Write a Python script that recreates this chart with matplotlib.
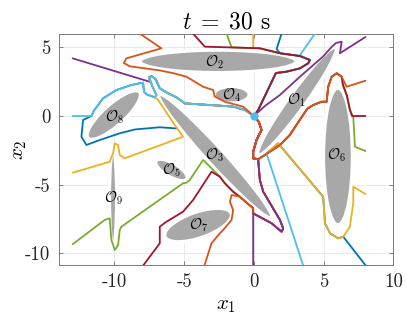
import matplotlib.pyplot as plt
from matplotlib.patches import Ellipse

plt.rcParams["font.family"] = "cmr10"
plt.rcParams["mathtext.fontset"] = "cm"
plt.rcParams["axes.unicode_minus"] = False
plt.rcParams["axes.formatter.use_mathtext"] = False

# MATLAB default colour order
blue, orange, yellow = "#0072BD", "#D95319", "#EDB120"
purple, green, lblue, dred = "#7E2F8E", "#77AC30", "#4DBEEE", "#A2142F"

# obstacles O1..O9: centre, semi axes, angle (deg)
obs_x = [3.09, -2.56, -2.77, -1.60, -5.91, 6.03, -4.00, -10.05, -10.10]
obs_y = [1.09, 3.98, -2.92, 1.55, -3.93, -2.95, -7.94, 0.07, -5.97]
obs_a = [4.82, 5.62, 6.07, 1.27, 1.30, 4.99, 2.53, 2.51, 3.60]
obs_b = [0.62, 0.83, 0.64, 0.62, 0.50, 1.05, 0.95, 0.78, 0.27]
obs_ang = [54.6, 0, -48.1, 0, -30.9, 90, 19.5, 42.4, 90]

# label positions
lab_x = [3.07, -2.80, -2.80, -1.60, -5.91, 5.94, -4.00, -9.98, -10.10]
lab_y = [1.17, 3.95, -2.84, 1.53, -3.93, -2.84, -7.94, -0.09, -5.99]

# shared tails of the trajectories
lb_tail = [(-7.27, 2.13), (-7.52, 2.82), (-7.34, 2.91), (-7.04, 2.67), (-6.75, 2.02),
           (-6.15, 1.65), (-5.55, 1.36), (-4.95, 0.92), (-3.16, 0.80), (-1.51, 0.69),
           (-0.65, 0.44), (0, 0)]
dred_tail = [(0.43, 4.93), (1.87, 4.57), (3.30, 4.37), (4.02, 4.08), (3.90, 3.84),
             (3.30, 3.47), (2.35, 3.23), (1.58, 3.13), (0.31, 0.44), (0, 0)]
arm_tail = [(0.79, -2.84), (0.31, -3.15), (-0.05, -3.08), (-0.05, -2.60), (0.19, -1.75),
            (0.55, -1.02), (0.36, -0.44), (0, 0)]
hump_tail = [(5.94, 3.11), (5.58, 2.86), (5.33, 2.13), (5.22, 1.04), (4.86, 1.04),
             (4.26, 0.80), (3.85, 0.55), (3.25, -0.35), (2.58, -1.38), (1.87, -2.11)] + arm_tail
tip_tail = [(-0.05, -7.09), (1.27, -7.81), (1.99, -8.43), (2.10, -8.18), (1.87, -7.57),
            (0.67, -5.51), (0.43, -4.66), (0.31, -3.20)] + arm_tail[1:]
o3low_tail = [(-2.44, -4.42), (-2.08, -4.90), (-1.49, -5.51), (-1.01, -5.88),
              (-0.05, -6.72)] + tip_tail
o6low_tail = [(6.05, -8.91), (5.46, -8.54), (5.10, -7.81), (4.97, -5.88), (1.74, -1.99)] + arm_tail

# trajectories
lb_a = [(-13.0, 0.0), (-11.65, 0.0), (-11.49, 0.36), (-10.82, 1.29), (-9.86, 1.89),
        (-8.78, 2.26), (-7.95, 2.43), (-7.88, 1.77), (-7.70, 1.58), (-7.11, 1.36),
        (-6.99, 1.53)] + lb_tail
purple_a = [(-13.0, 4.20), (-7.42, 2.48)] + lb_tail[1:]
yellow_b = [(-13.0, -4.13), (-10.34, -3.33), (-10.10, -2.72), (-9.98, -1.99), (-9.74, -2.11),
            (-9.62, -2.84), (-9.26, -3.08), (-5.08, -1.51), (-5.67, -0.66), (-6.87, 1.17),
            (-7.11, 1.36), (-6.99, 1.53)] + lb_tail
blue_a = [(-5.50, -0.91), (-6.75, -0.82), (-8.54, -0.98), (-9.62, -1.26), (-11.06, -1.75),
          (-12.01, -2.11), (-12.37, -1.51), (-12.25, -0.29), (-11.65, 0.0), (-11.49, 0.36),
          (-10.82, 1.29), (-9.86, 1.89), (-8.78, 2.26), (-7.95, 2.43), (-7.88, 1.77),
          (-7.70, 1.58), (-7.11, 1.36), (-6.99, 1.53)] + lb_tail
orange_a = [(-8.18, 6.0), (-6.63, 4.93), (-9.14, 4.20), (-9.33, 3.86), (-8.90, 3.62),
            (-6.75, 3.32), (-5.79, 3.12), (-4.83, 2.86), (-3.64, 2.13), (-2.92, 1.89),
            (-2.80, 1.41), (-2.08, 1.04), (-0.77, 0.68), (0, 0)]
dred_a = [(-4.36, 6.0), (-3.52, 5.05)] + dred_tail
yellow_a = [(-0.05, 6.0), (-0.05, 4.95)] + dred_tail
green_c = [(-1.96, 6.0), (-1.60, 5.0)] + dred_tail
blue_top = [(1.99, 6.0), (1.63, 4.88)] + dred_tail[1:]
lb_b = [(4.38, 6.0), (3.30, 4.42)] + dred_tail[3:]
purple_b = [(8.0, 5.75), (6.17, 4.57), (6.30, 5.41), (5.89, 5.32), (5.58, 5.03),
            (4.95, 4.32), (3.30, 2.86), (1.87, 1.53), (0.79, 0.73), (0, 0)]
orange_b = [(8.0, 2.57), (6.65, 2.13), (6.30, 2.86)] + hump_tail
dred_b = [(8.0, 0.0), (7.04, 0.0), (6.89, 0.44), (6.68, 1.46), (6.39, 2.26), (6.30, 2.86)] + hump_tail
green_b = [(8.0, -2.55), (7.25, -2.24), (7.13, -0.05), (6.89, 0.44), (6.68, 1.46),
           (6.39, 2.26), (6.30, 2.86)] + hump_tail
yellow_c = [(8.0, -5.68), (7.13, -5.15), (7.13, -6.34), (6.89, -8.06), (6.41, -8.79)] + o6low_tail
blue_b = [(8.03, -10.9), (6.41, -8.79)] + o6low_tail
lb_c = [(3.54, -10.9), (0.91, -2.72)] + arm_tail
purple_c = [(-0.05, -10.9)] + tip_tail
orange_c = [(-3.55, -10.9), (-3.04, -9.27), (-2.44, -8.54), (-2.20, -8.30), (-1.60, -7.57),
            (-1.49, -6.85), (-1.72, -6.24), (-1.60, -5.75), (-1.01, -5.88), (-0.05, -6.72)] + tip_tail
dred_c = [(-7.95, -10.9), (-6.75, -9.27), (-6.75, -8.06), (-6.27, -7.70), (-5.08, -6.97),
          (-4.36, -6.12), (-3.04, -4.06)] + o3low_tail
green_a = [(-13.0, -9.34), (-10.70, -7.57), (-10.34, -7.45), (-10.22, -9.03), (-9.98, -9.76),
           (-9.74, -9.40), (-9.62, -8.30), (-9.50, -8.06), (-5.08, -4.90), (-4.84, -4.86),
           (-4.60, -4.66), (-3.64, -3.20), (-2.92, -3.93)] + o3low_tail

# (path, colour, zorder) - later/higher ones cover the shared parts
lines = [
    (yellow_a, yellow, 3.0), (green_c, green, 3.0), (blue_top, blue, 3.0), (lb_b, lblue, 3.0),
    (purple_a, purple, 3.0), (blue_a, blue, 3.1), (yellow_b, yellow, 3.2),
    (green_b, green, 3.0), (dred_b, dred, 3.1),
    (blue_b, blue, 3.0), (yellow_c, yellow, 3.2), (lb_c, lblue, 3.3),
    (green_a, green, 3.0), (dred_c, dred, 3.4), (orange_c, orange, 3.6), (purple_c, purple, 3.8),
    (lb_a, lblue, 4.0), (dred_a, dred, 4.5), (orange_a, orange, 4.6), (purple_b, purple, 4.7),
    (orange_b, orange, 5.0),
]

fig = plt.figure(figsize=(4.07, 3.23), dpi=100)
ax = fig.add_axes([0.1442, 0.1796, 0.8221, 0.7142])

for i in range(len(obs_x)):
    e = Ellipse((obs_x[i], obs_y[i]), 2 * obs_a[i], 2 * obs_b[i], angle=obs_ang[i],
                facecolor="#a8a8a8", edgecolor="white", linewidth=2.6, zorder=2)
    ax.add_patch(e)
    ax.text(lab_x[i], lab_y[i], r"$\mathcal{O}_{%d}$" % (i + 1), fontsize=10.5,
            ha="center", va="center", zorder=6)

for path, c, z in lines:
    xs, ys = zip(*path)
    ax.plot(xs, ys, color=c, lw=1.3, zorder=z, solid_joinstyle="round", solid_capstyle="round")

ax.plot(0, 0, "o", ms=5, color=lblue, zorder=7)

ax.set_xlim(-14, 10)
ax.set_ylim(-10.85, 5.95)
ax.set_xticks([-10, -5, 0, 5, 10])
ax.set_yticks([-10, -5, 0, 5])
ax.grid(True, color="#e6e6e6", lw=0.6, zorder=0)
ax.set_axisbelow(True)
ax.tick_params(direction="in", top=True, right=True, length=3, width=0.6,
               color="#6e6e6e", labelsize=13.5, labelcolor="#262626", pad=6)
for s in ax.spines.values():
    s.set_color("#7a7a7a")
    s.set_linewidth(0.7)

ax.set_title(r"$t\;=\;30$ s", fontsize=17, pad=4)
ax.set_xlabel(r"$x_1$", fontsize=15, labelpad=4)
ax.set_ylabel(r"$x_2$", fontsize=15, labelpad=-3)

fig.savefig("out.png", dpi=100)
